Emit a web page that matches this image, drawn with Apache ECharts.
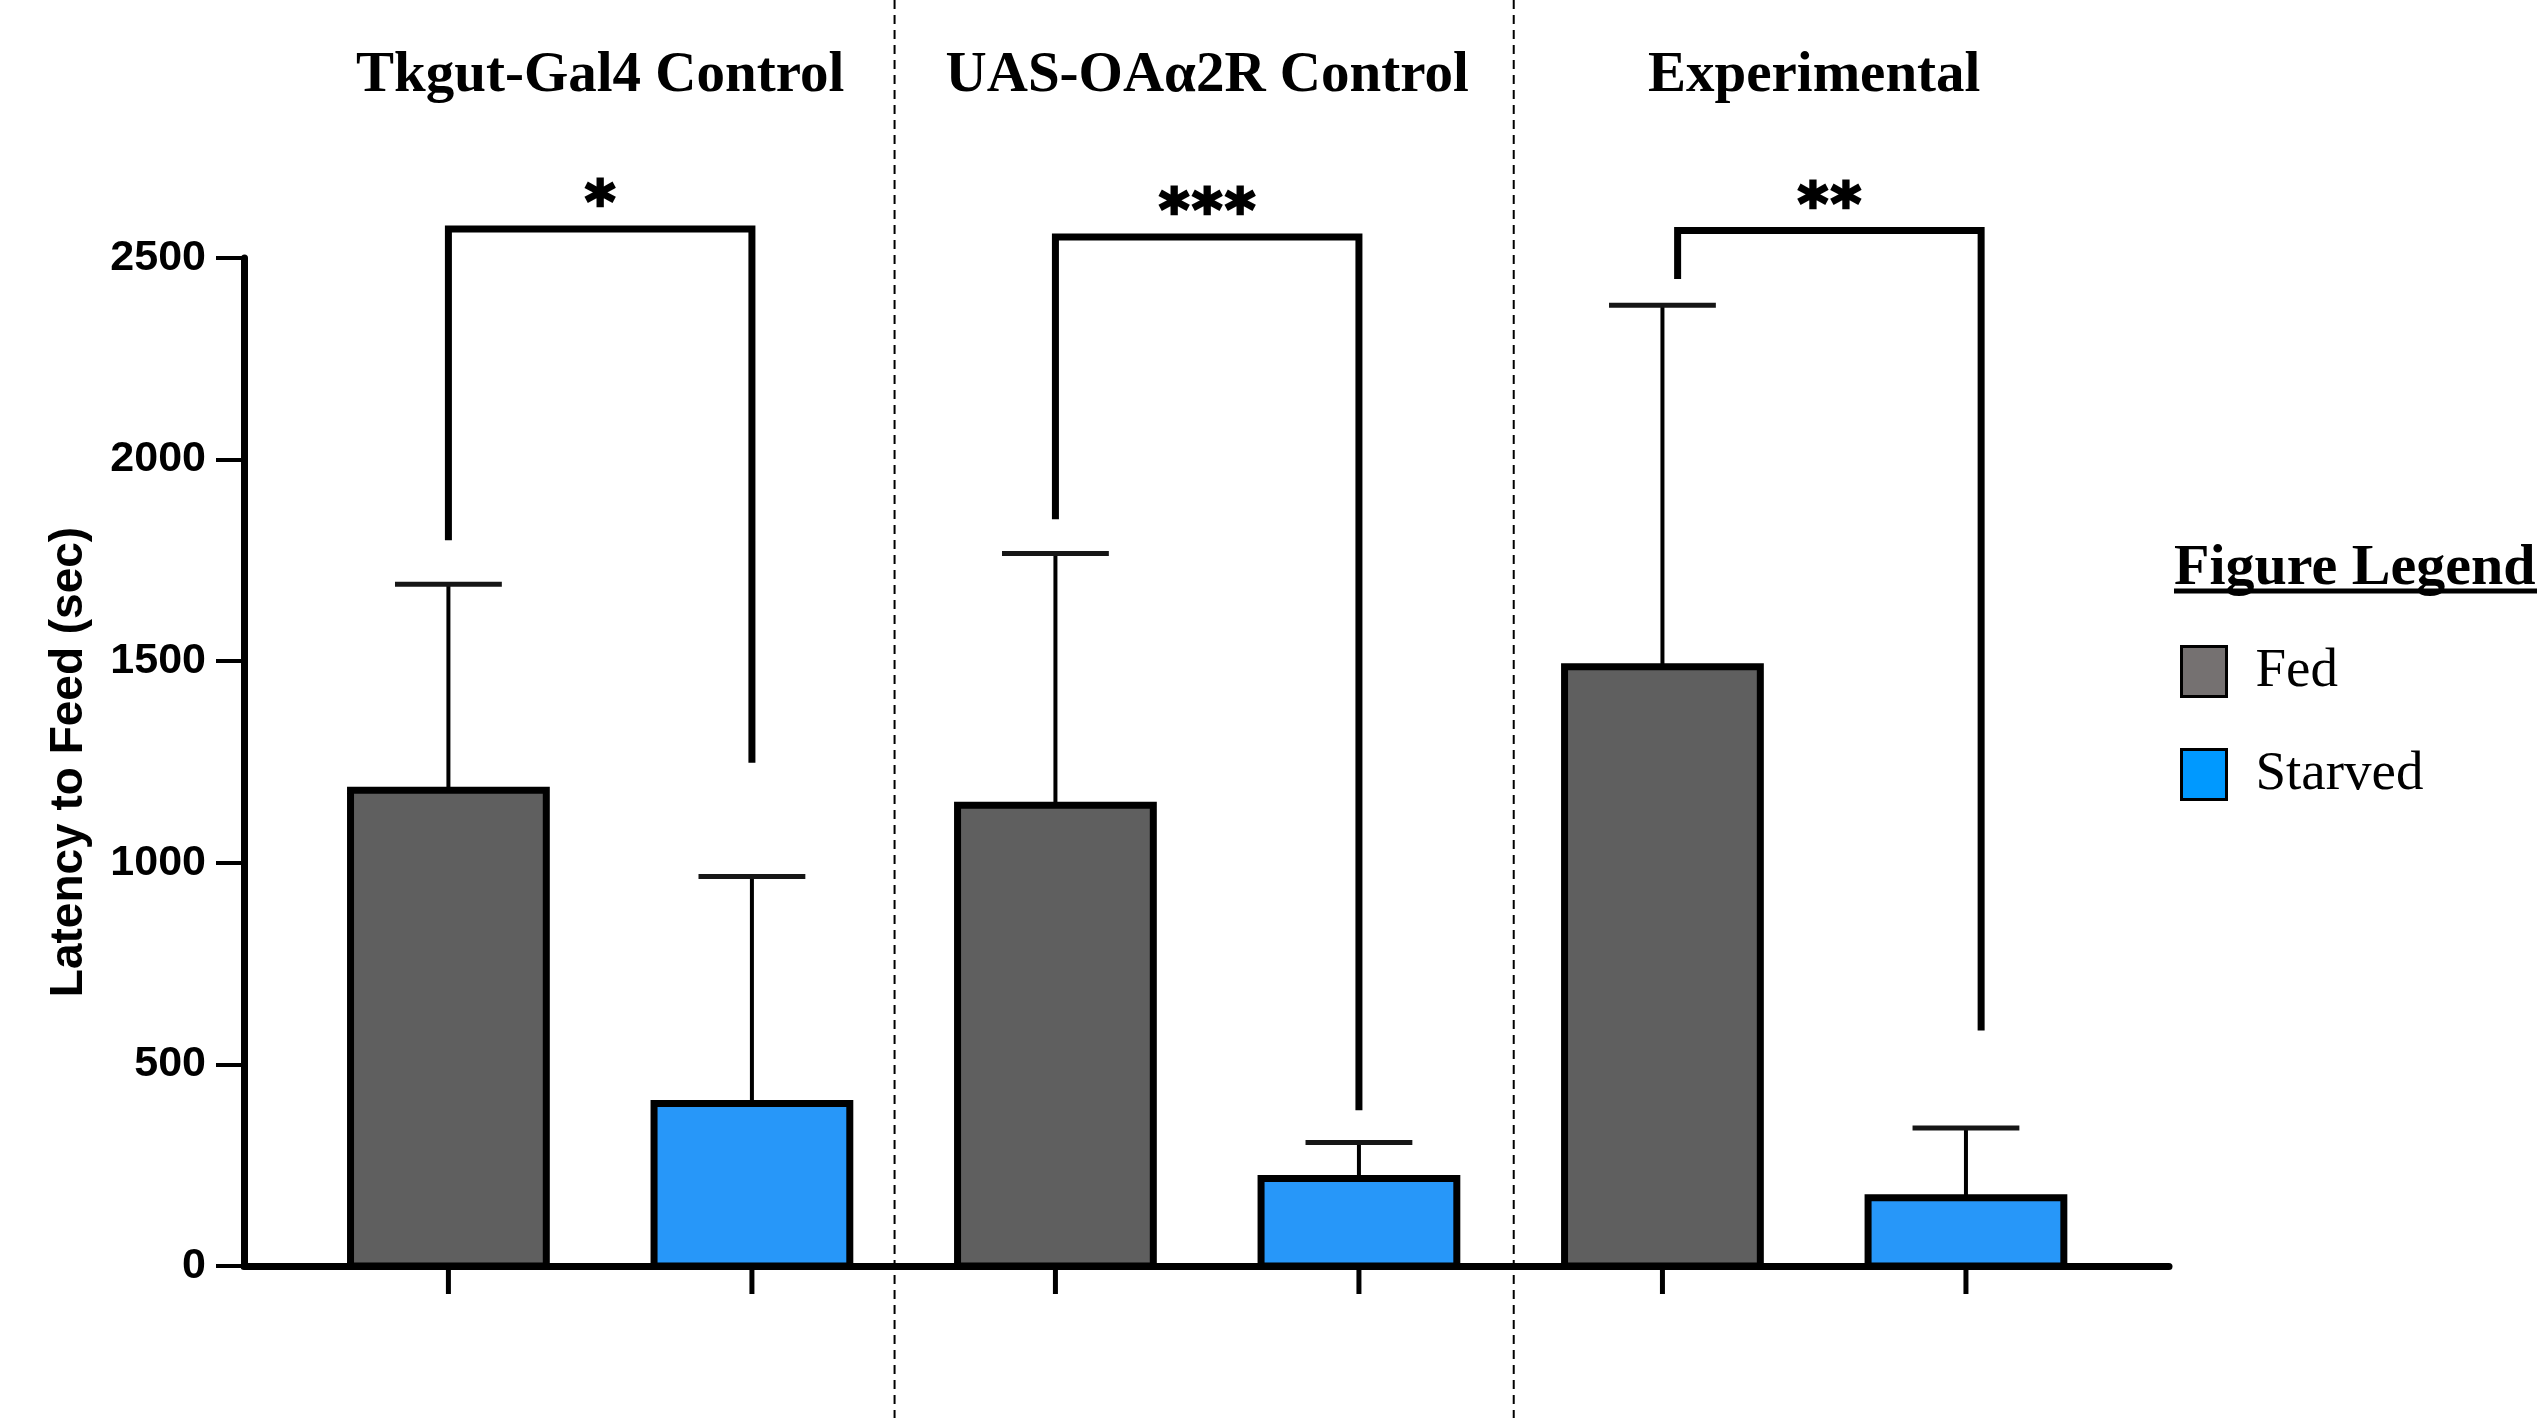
<!DOCTYPE html>
<html><head><meta charset="utf-8">
<script src="https://cdn.jsdelivr.net/npm/echarts@6/dist/echarts.min.js"></script>
<style>html,body{margin:0;padding:0;background:#fff}#c{width:2546px;height:1418px}</style>
</head><body><div id="c"></div><script>
// ---- data ----
const groups = ['Tkgut-Gal4 Control', 'UAS-OAα2R Control', 'Experimental'];
const conditions = ['Fed', 'Starved'];
const fedMean = [1180, 1143, 1486];
const fedErrTop = [1691, 1767, 2383];
const starvedMean = [403, 217, 169];
const starvedErrTop = [966, 306, 342];
const sigLabels = ['*', '***', '**'];
const bracketTop = [2572, 2552, 2568];
const bracketLeftEnd = [1800, 1852, 2448];
const bracketRightEnd = [1248, 386, 584];
const bracketShift = [0, 0, 0.05];
const separators = [2.47, 4.51];
const yMin = 0, yMax = 2500, yStep = 500;

// ---- build ----
const fedColor = '#5f5f5f', starvedColor = '#2797f9';
const legendFed = '#757171', legendStarved = '#0099ff';
const fedData = groups.map((g, i) => [2 * i + 1, fedMean[i], fedErrTop[i]]);
const starvedData = groups.map((g, i) => [2 * i + 2, starvedMean[i], starvedErrTop[i]]);
const bracketData = groups.map((g, i) => [2 * i + 1 + bracketShift[i], 2 * i + 2 + bracketShift[i], bracketTop[i], bracketLeftEnd[i], bracketRightEnd[i], sigLabels[i].length]);
const titleData = groups.map((g, i) => [2 * i + 1.5, i]);

function barRenderer(fill) {
  return function (params, api) {
    const x = api.value(0), v = api.value(1), e = api.value(2);
    const base = api.coord([x, 0]);
    const top = api.coord([x, v]);
    const et = api.coord([x, e]);
    const unit = api.size([1, 0])[0];
    const w = unit * 0.645;
    const cap = unit * 0.352;
    return {
      type: 'group',
      children: [
        { type: 'line', shape: { x1: base[0], y1: base[1], x2: base[0], y2: base[1] + 28 }, style: { stroke: '#000', lineWidth: 5 } },
        { type: 'line', shape: { x1: top[0], y1: top[1], x2: top[0], y2: et[1] }, style: { stroke: '#000', lineWidth: 4 } },
        { type: 'line', shape: { x1: top[0] - cap / 2, y1: et[1], x2: top[0] + cap / 2, y2: et[1] }, style: { stroke: '#161616', lineWidth: 5 } },
        { type: 'rect', shape: { x: top[0] - w / 2, y: top[1], width: w, height: base[1] - top[1] }, style: { fill: fill, stroke: '#000', lineWidth: 7 } }
      ]
    };
  };
}

const option = {
  animation: false,
  backgroundColor: '#fff',
  grid: { left: 244, right: 377, top: 258, bottom: 152, containLabel: false },
  xAxis: {
    type: 'value', min: 0.3265, max: 6.669,
    axisLine: { show: true, lineStyle: { color: '#000', width: 7 } },
    axisTick: { show: false }, axisLabel: { show: false }, splitLine: { show: false }
  },
  yAxis: {
    type: 'value', min: yMin, max: yMax, interval: yStep,
    name: 'Latency to Feed (sec)', nameLocation: 'middle', nameGap: 152, nameRotate: 90,
    nameTextStyle: { fontFamily: 'Liberation Sans', fontWeight: 'bold', fontSize: 46, color: '#000' },
    axisLine: { show: true, lineStyle: { color: '#000', width: 7 } },
    axisTick: { show: true, length: 28, lineStyle: { color: '#000', width: 4 } },
    axisLabel: { margin: 38, fontFamily: 'Liberation Sans', fontWeight: 'bold', fontSize: 43, color: '#000', formatter: function (v) { return String(v); } },
    splitLine: { show: false }
  },
  legend: {
    orient: 'vertical', left: 2175, top: 639, itemWidth: 45, itemHeight: 50, itemGap: 48,
    selectedMode: false, icon: 'rect',
    textStyle: { fontFamily: 'Liberation Serif', fontSize: 55, color: '#000', padding: [0, 0, 0, 24] },
    data: [
      { name: 'Fed', itemStyle: { color: legendFed, borderColor: '#000', borderWidth: 3 } },
      { name: 'Starved', itemStyle: { color: legendStarved, borderColor: '#000', borderWidth: 3 } }
    ]
  },
  graphic: [
    { type: 'text', left: 2174, top: 540, style: { text: 'Figure Legend', font: 'bold 58px "Liberation Serif"', fill: '#000' } },
    { type: 'line', shape: { x1: 2174, y1: 591, x2: 2537, y2: 591 }, style: { stroke: '#000', lineWidth: 5 } }
  ],
  series: [
    {
      type: 'custom', name: 'separators', clip: false, silent: true, z: 1,
      data: separators.map(v => [v]),
      renderItem: function (params, api) {
        const p = api.coord([api.value(0), 0]);
        return { type: 'line', shape: { x1: p[0], y1: 0, x2: p[0], y2: api.getHeight() }, style: { stroke: '#000', lineWidth: 2, lineDash: [9, 6] } };
      }
    },
    { type: 'custom', name: conditions[0], clip: false, z: 3, itemStyle: { color: legendFed }, data: fedData, renderItem: barRenderer(fedColor) },
    { type: 'custom', name: conditions[1], clip: false, z: 3, itemStyle: { color: legendStarved }, data: starvedData, renderItem: barRenderer(starvedColor) },
    {
      type: 'custom', name: 'brackets', clip: false, silent: true, z: 4,
      data: bracketData,
      renderItem: function (params, api) {
        const xl = api.value(0), xr = api.value(1), yt = api.value(2), yl = api.value(3), yr = api.value(4), n = api.value(5);
        const a = api.coord([xl, yl]), b = api.coord([xl, yt]), c = api.coord([xr, yt]), d = api.coord([xr, yr]);
        const children = [
          { type: 'polyline', shape: { points: [a, b, c, d] }, style: { stroke: '#000', lineWidth: 7, fill: null, lineJoin: 'miter' } }
        ];
        const mid = (b[0] + c[0]) / 2;
        for (let k = 0; k < n; k++) {
          children.push({ type: 'text', style: { text: '*', x: mid + (k - (n - 1) / 2) * 33, y: b[1] - 22, align: 'center', verticalAlign: 'middle', font: 'bold 58px "DejaVu Sans"', fill: '#000', stroke: '#000', lineWidth: 2.5 } });
        }
        return { type: 'group', children: children };
      }
    },
    {
      type: 'custom', name: 'titles', clip: false, silent: true, z: 4,
      data: titleData,
      renderItem: function (params, api) {
        const p = api.coord([api.value(0), 0]);
        return { type: 'text', style: { text: groups[api.value(1)], x: p[0], y: 76, align: 'center', verticalAlign: 'middle', font: 'bold 57px "Liberation Serif"', fill: '#000' } };
      }
    }
  ]
};
const chart = echarts.init(document.getElementById('c'));
chart.setOption(option);
</script></body></html>
